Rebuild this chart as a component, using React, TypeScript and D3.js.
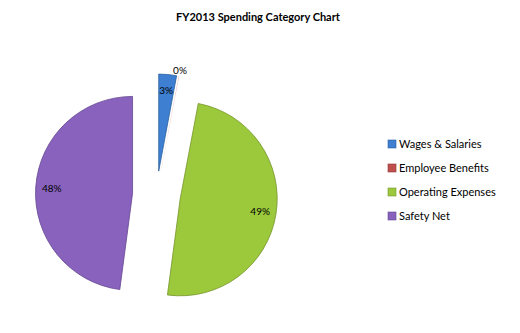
import React from "react";
import * as d3 from "d3";

const categories = ["Wages & Salaries", "Employee Benefits", "Operating Expenses", "Safety Net"];
const values = [2.95, 0.03, 49.12, 47.9];
const labels = ["3%", "0%", "49%", "48%"];
const colors = ["#3f7fd2", "#c0504d", "#9cc83c", "#8862bc"];
const strokes = ["#2a5f9e", "#8c3836", "#76962c", "#644690"];

export default function App() {
  const W = 520, H = 333;
  const cx = 156.5, cy = 195, r = 97, explode = 24;
  const pie = d3.pie<number>().sort(null).value((d) => d);
  const arcs = pie(values);
  const arc = d3.arc<d3.PieArcDatum<number>>().innerRadius(0).outerRadius(r);
  const legendY = [144, 168, 192, 216];
  return (
    <svg width={W} height={H} style={{ position: "absolute", left: 0, top: 0, background: "#fff" }}>
      <text x={258} y={21} textAnchor="middle" fontFamily="Lato, 'Open Sans', sans-serif" fontWeight="bold" fontSize={11} fill="#000">
        FY2013 Spending Category Chart
      </text>
      {arcs.map((a, i) => {
        const mid = (a.startAngle + a.endAngle) / 2;
        const ox = cx + explode * Math.sin(mid);
        const oy = cy - explode * Math.cos(mid);
        return (
          <g key={i} transform={`translate(${ox},${oy})`}>
            <path d={arc(a) || ""} fill={colors[i]} stroke={strokes[i]} strokeWidth={i === 1 ? 0 : 0.8} />
          </g>
        );
      })}
      {arcs.map((a, i) => {
        const mid = (a.startAngle + a.endAngle) / 2;
        const ox = cx + explode * Math.sin(mid);
        const oy = cy - explode * Math.cos(mid);
        const lr = i === 1 ? 103 : 81;
        const lx = ox + lr * Math.sin(mid);
        const ly = oy - lr * Math.cos(mid);
        return (
          <text key={i} x={lx} y={ly} dy="0.35em" textAnchor="middle" fontFamily="Lato, 'Open Sans', sans-serif" fontSize={10} fill="#000">
            {labels[i]}
          </text>
        );
      })}
      {categories.map((c, i) => (
        <g key={i}>
          <rect x={388} y={legendY[i] - 4} width={8} height={8} fill={colors[i]} stroke={strokes[i]} strokeWidth={0.6} />
          <text x={399} y={legendY[i]} dy="0.35em" fontFamily="Lato, 'Open Sans', sans-serif" fontSize={11} fill="#000">
            {c}
          </text>
        </g>
      ))}
    </svg>
  );
}
